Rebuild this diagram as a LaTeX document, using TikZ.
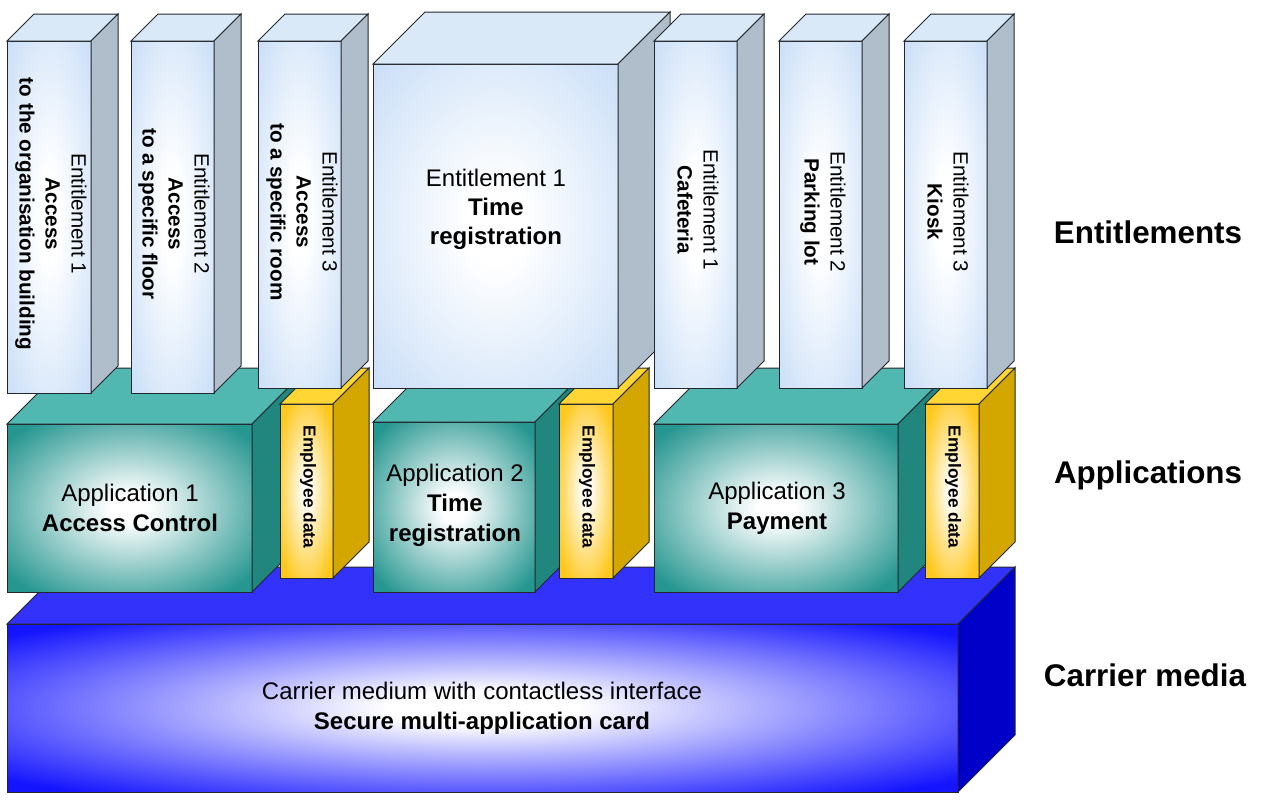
\documentclass[tikz,border=0pt]{standalone}
\usepackage{fontspec}
\setmainfont{Liberation Sans}

\definecolor{edgegray}{RGB}{35,38,45}
\definecolor{entblue}{RGB}{204,224,248}
\definecolor{enttopblue}{RGB}{218,233,248}
\definecolor{entgray}{RGB}{176,189,202}
\definecolor{appteal}{RGB}{38,150,144}
\definecolor{apptopteal}{RGB}{80,184,177}
\definecolor{appdark}{RGB}{32,134,126}
\definecolor{empyellow}{RGB}{255,200,30}
\definecolor{emptopyellow}{RGB}{255,214,52}
\definecolor{empgold}{RGB}{212,166,0}
\definecolor{carblue}{RGB}{20,20,255}
\definecolor{cartopblue}{RGB}{50,50,250}
\definecolor{cardark}{RGB}{0,0,200}

\pgfdeclareradialshading{entglow}{\pgfpoint{0bp}{0bp}}{color(0bp)=(white); color(6bp)=(white); color(34bp)=(entblue); color(50bp)=(entblue)}
\pgfdeclareradialshading{appglow}{\pgfpoint{0bp}{0bp}}{color(0bp)=(white); color(4bp)=(white); color(32bp)=(appteal); color(50bp)=(appteal)}
\pgfdeclareradialshading{empglow}{\pgfpoint{0bp}{0bp}}{color(0bp)=(white); color(3bp)=(white); color(30bp)=(empyellow); color(50bp)=(empyellow)}
\pgfdeclareradialshading{carglow}{\pgfpoint{0bp}{0bp}}{color(0bp)=(white); color(5bp)=(white); color(33bp)=(carblue); color(50bp)=(carblue)}

\tikzset{every picture/.style={line width=0.75pt}}
\tikzset{
  entfront/.style={draw=edgegray, shade, shading=entglow},
  enttop/.style={draw=edgegray, fill=enttopblue},
  entside/.style={draw=edgegray, fill=entgray},
  appfront/.style={draw=edgegray, shade, shading=appglow},
  apptop/.style={draw=edgegray, fill=apptopteal},
  appside/.style={draw=edgegray, fill=appdark},
  empfront/.style={draw=edgegray, shade, shading=empglow},
  emptop/.style={draw=edgegray, fill=emptopyellow},
  empside/.style={draw=edgegray, fill=empgold},
  carfront/.style={draw=edgegray, shade, shading=carglow},
  cartop/.style={draw=edgegray, fill=cartopblue},
  carside/.style={draw=edgegray, fill=cardark},
  bodytext/.style={inner sep=0.75pt, align=center, font=\fontsize{18}{22.5}\selectfont},
  bigtext/.style={inner sep=0.75pt, align=center, font=\fontsize{18}{21.75}\selectfont},
  coltext/.style={inner sep=0.75pt, align=center, rotate=-90, font=\fontsize{15.5}{19.5}\selectfont},
  emptext/.style={inner sep=0.75pt, rotate=-90, font=\fontsize{13}{16}\selectfont\bfseries},
  layertext/.style={inner sep=0.75pt, font=\fontsize{23.5}{28}\selectfont\bfseries}
}

\begin{document}
\begin{tikzpicture}[x=0.75pt,y=0.75pt,yscale=-1,xscale=1]
\useasboundingbox (0,0) rectangle (1261,803);

%Shape: Cube (carrier)
\draw [carfront] (7,624) rectangle (958,792) ;
\draw [cartop] (7,624) -- (64,567) -- (1015,567) -- (958,624) -- cycle ;
\draw [carside] (958,624) -- (1015,567) -- (1015,735) -- (958,792) -- cycle ;

%Shape: Cube (application 1)
\draw [appfront] (7,424) rectangle (252,592) ;
\draw [apptop] (7,424) -- (63,368) -- (308,368) -- (252,424) -- cycle ;
\draw [appside] (252,424) -- (308,368) -- (308,536) -- (252,592) -- cycle ;
%Shape: Cube (application 2)
\draw [appfront] (373,422) rectangle (535,592) ;
\draw [apptop] (373,422) -- (429,366) -- (591,366) -- (535,422) -- cycle ;
\draw [appside] (535,422) -- (591,366) -- (591,536) -- (535,592) -- cycle ;
%Shape: Cube (application 3)
\draw [appfront] (654,424) rectangle (898,592) ;
\draw [apptop] (654,424) -- (710,368) -- (954,368) -- (898,424) -- cycle ;
\draw [appside] (898,424) -- (954,368) -- (954,536) -- (898,592) -- cycle ;

%Shape: Cube (employee data 1)
\draw [empfront] (280,404) rectangle (333,578) ;
\draw [emptop] (280,404) -- (316,368) -- (369,368) -- (333,404) -- cycle ;
\draw [empside] (333,404) -- (369,368) -- (369,542) -- (333,578) -- cycle ;
%Shape: Cube (employee data 2)
\draw [empfront] (559,404) rectangle (613,578) ;
\draw [emptop] (559,404) -- (595,368) -- (649,368) -- (613,404) -- cycle ;
\draw [empside] (613,404) -- (649,368) -- (649,542) -- (613,578) -- cycle ;
%Shape: Cube (employee data 3)
\draw [empfront] (925,404) rectangle (979,578) ;
\draw [emptop] (925,404) -- (961,368) -- (1015,368) -- (979,404) -- cycle ;
\draw [empside] (979,404) -- (1015,368) -- (1015,542) -- (979,578) -- cycle ;

%Shape: Cube (entitlement column 1)
\draw [entfront] (7,41) rectangle (91,393) ;
\draw [enttop] (7,41) -- (34,14) -- (118,14) -- (91,41) -- cycle ;
\draw [entside] (91,41) -- (118,14) -- (118,366) -- (91,393) -- cycle ;
%Shape: Cube (entitlement column 2)
\draw [entfront] (131,41) rectangle (214,393) ;
\draw [enttop] (131,41) -- (158,14) -- (241,14) -- (214,41) -- cycle ;
\draw [entside] (214,41) -- (241,14) -- (241,366) -- (214,393) -- cycle ;
%Shape: Cube (entitlement column 3)
\draw [entfront] (258,41) rectangle (341,388) ;
\draw [enttop] (258,41) -- (285,14) -- (368,14) -- (341,41) -- cycle ;
\draw [entside] (341,41) -- (368,14) -- (368,361) -- (341,388) -- cycle ;
%Shape: Cube (time registration)
\draw [entfront] (373,64) rectangle (618,388) ;
\draw [enttop] (373,64) -- (425,12) -- (670,12) -- (618,64) -- cycle ;
\draw [entside] (618,64) -- (670,12) -- (670,336) -- (618,388) -- cycle ;
%Shape: Cube (cafeteria)
\draw [entfront] (654,41) rectangle (737,388) ;
\draw [enttop] (654,41) -- (681,14) -- (764,14) -- (737,41) -- cycle ;
\draw [entside] (737,41) -- (764,14) -- (764,361) -- (737,388) -- cycle ;
%Shape: Cube (parking lot)
\draw [entfront] (779,41) rectangle (862,388) ;
\draw [enttop] (779,41) -- (806,14) -- (889,14) -- (862,41) -- cycle ;
\draw [entside] (862,41) -- (889,14) -- (889,361) -- (862,388) -- cycle ;
%Shape: Cube (kiosk)
\draw [entfront] (904,41) rectangle (987,388) ;
\draw [enttop] (904,41) -- (931,14) -- (1014,14) -- (987,41) -- cycle ;
\draw [entside] (987,41) -- (1014,14) -- (1014,361) -- (987,388) -- cycle ;

% Text Node
\draw (51,214) node [coltext] (entbuilding) {Entitlement 1\\\textbf{Access}\\\textbf{to the organisation building}};
% Text Node
\draw (174,214) node [coltext] (entfloor) {Entitlement 2\\\textbf{Access}\\\textbf{to a specific floor}};
% Text Node
\draw (302,212) node [coltext] (entroom) {Entitlement 3\\\textbf{Access}\\\textbf{to a specific room}};
% Text Node
\draw (496,209) node [bigtext] (enttime) {Entitlement 1\\\textbf{Time}\\\textbf{registration}};
% Text Node
\draw (698,210) node [coltext] (entcafe) {Entitlement 1\\\textbf{Cafeteria}};
% Text Node
\draw (823,212) node [coltext] (entparking) {Entitlement 2\\\textbf{Parking lot}};
% Text Node
\draw (948,212) node [coltext] (entkiosk) {Entitlement 3\\\textbf{Kiosk}};
% Text Node
\draw (130,508) node [bodytext] (appaccess) {Application 1\\\textbf{Access Control}};
% Text Node
\draw (455,505) node [bodytext] (apptime) {Application 2\\\textbf{Time}\\\textbf{registration}};
% Text Node
\draw (777,508) node [bodytext] (apppay) {Application 3\\\textbf{Payment}};
% Text Node
\draw (308,487) node [emptext] (empdataa) {Employee data};
% Text Node
\draw (587,487) node [emptext] (empdatab) {Employee data};
% Text Node
\draw (953,487) node [emptext] (empdatac) {Employee data};
% Text Node
\draw (482,708) node [bodytext] (carriertext) {Carrier medium with contactless interface\\\textbf{Secure multi-application card}};
% Text Node
\draw (1148,232) node [layertext] (entlayer) {Entitlements};
% Text Node
\draw (1148,475) node [layertext] (applayer) {Applications};
% Text Node
\draw (1145,675) node [layertext] (carlayer) {Carrier media};

\end{tikzpicture}
\end{document}
